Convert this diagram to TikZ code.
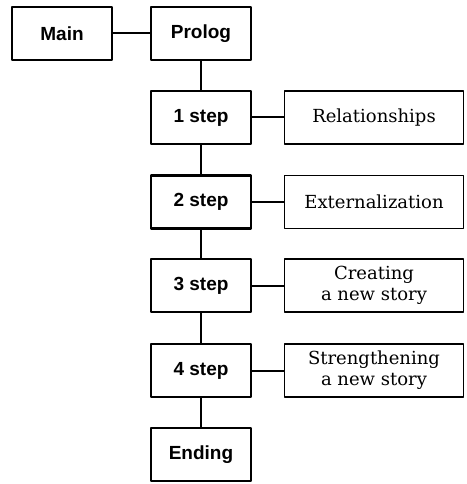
\documentclass[tikz,border=0pt]{standalone}
\usepackage{fontspec}
\setmainfont{DejaVu Serif}
\newfontfamily\stepfont{Liberation Sans}
\begin{document}
\begin{tikzpicture}[x=1pt, y=-1pt, line join=round,
	stepbox/.style={draw, line width=2.6pt, minimum width=100pt, minimum height=53pt, inner sep=0pt, font=\stepfont\bfseries\fontsize{19}{21}\selectfont},
	notebox/.style={draw, line width=1.8pt, minimum width=179pt, minimum height=53pt, inner sep=0pt, align=center, font=\fontsize{18}{21}\selectfont},
	link/.style={line width=2pt}]
	\useasboundingbox (0,0) rectangle (466,484);
	\def\xs{201} \def\xr{374} % columns
	\node[stepbox] (main) at (62,33.5) {Main};
	\node[stepbox] (prolog) at (\xs,33.5) {Prolog};
	\node[stepbox] (s1) at (\xs,117.5) {1 step};
	\node[stepbox] (s2) at (\xs,202) {2 step};
	\node[stepbox] (s3) at (\xs,285.5) {3 step};
	\node[stepbox] (s4) at (\xs,370.5) {4 step};
	\node[stepbox] (ending) at (\xs,454.5) {Ending};
	\node[notebox] (r1) at (\xr,117.5) {Relationships};
	\node[notebox] (r2) at (\xr,202) {Externalization};
	\node[notebox] (r3) at (\xr,285.5) {Creating\\a new story};
	\node[notebox] (r4) at (\xr,370.5) {Strengthening\\a new story};
	\draw[link] (main) -- (prolog);
	\draw[link] (prolog) -- (s1) -- (s2) -- (s3) -- (s4) -- (ending);
	\foreach \i in {1,...,4} \draw[link] (s\i) -- (r\i);
\end{tikzpicture}
\end{document}
